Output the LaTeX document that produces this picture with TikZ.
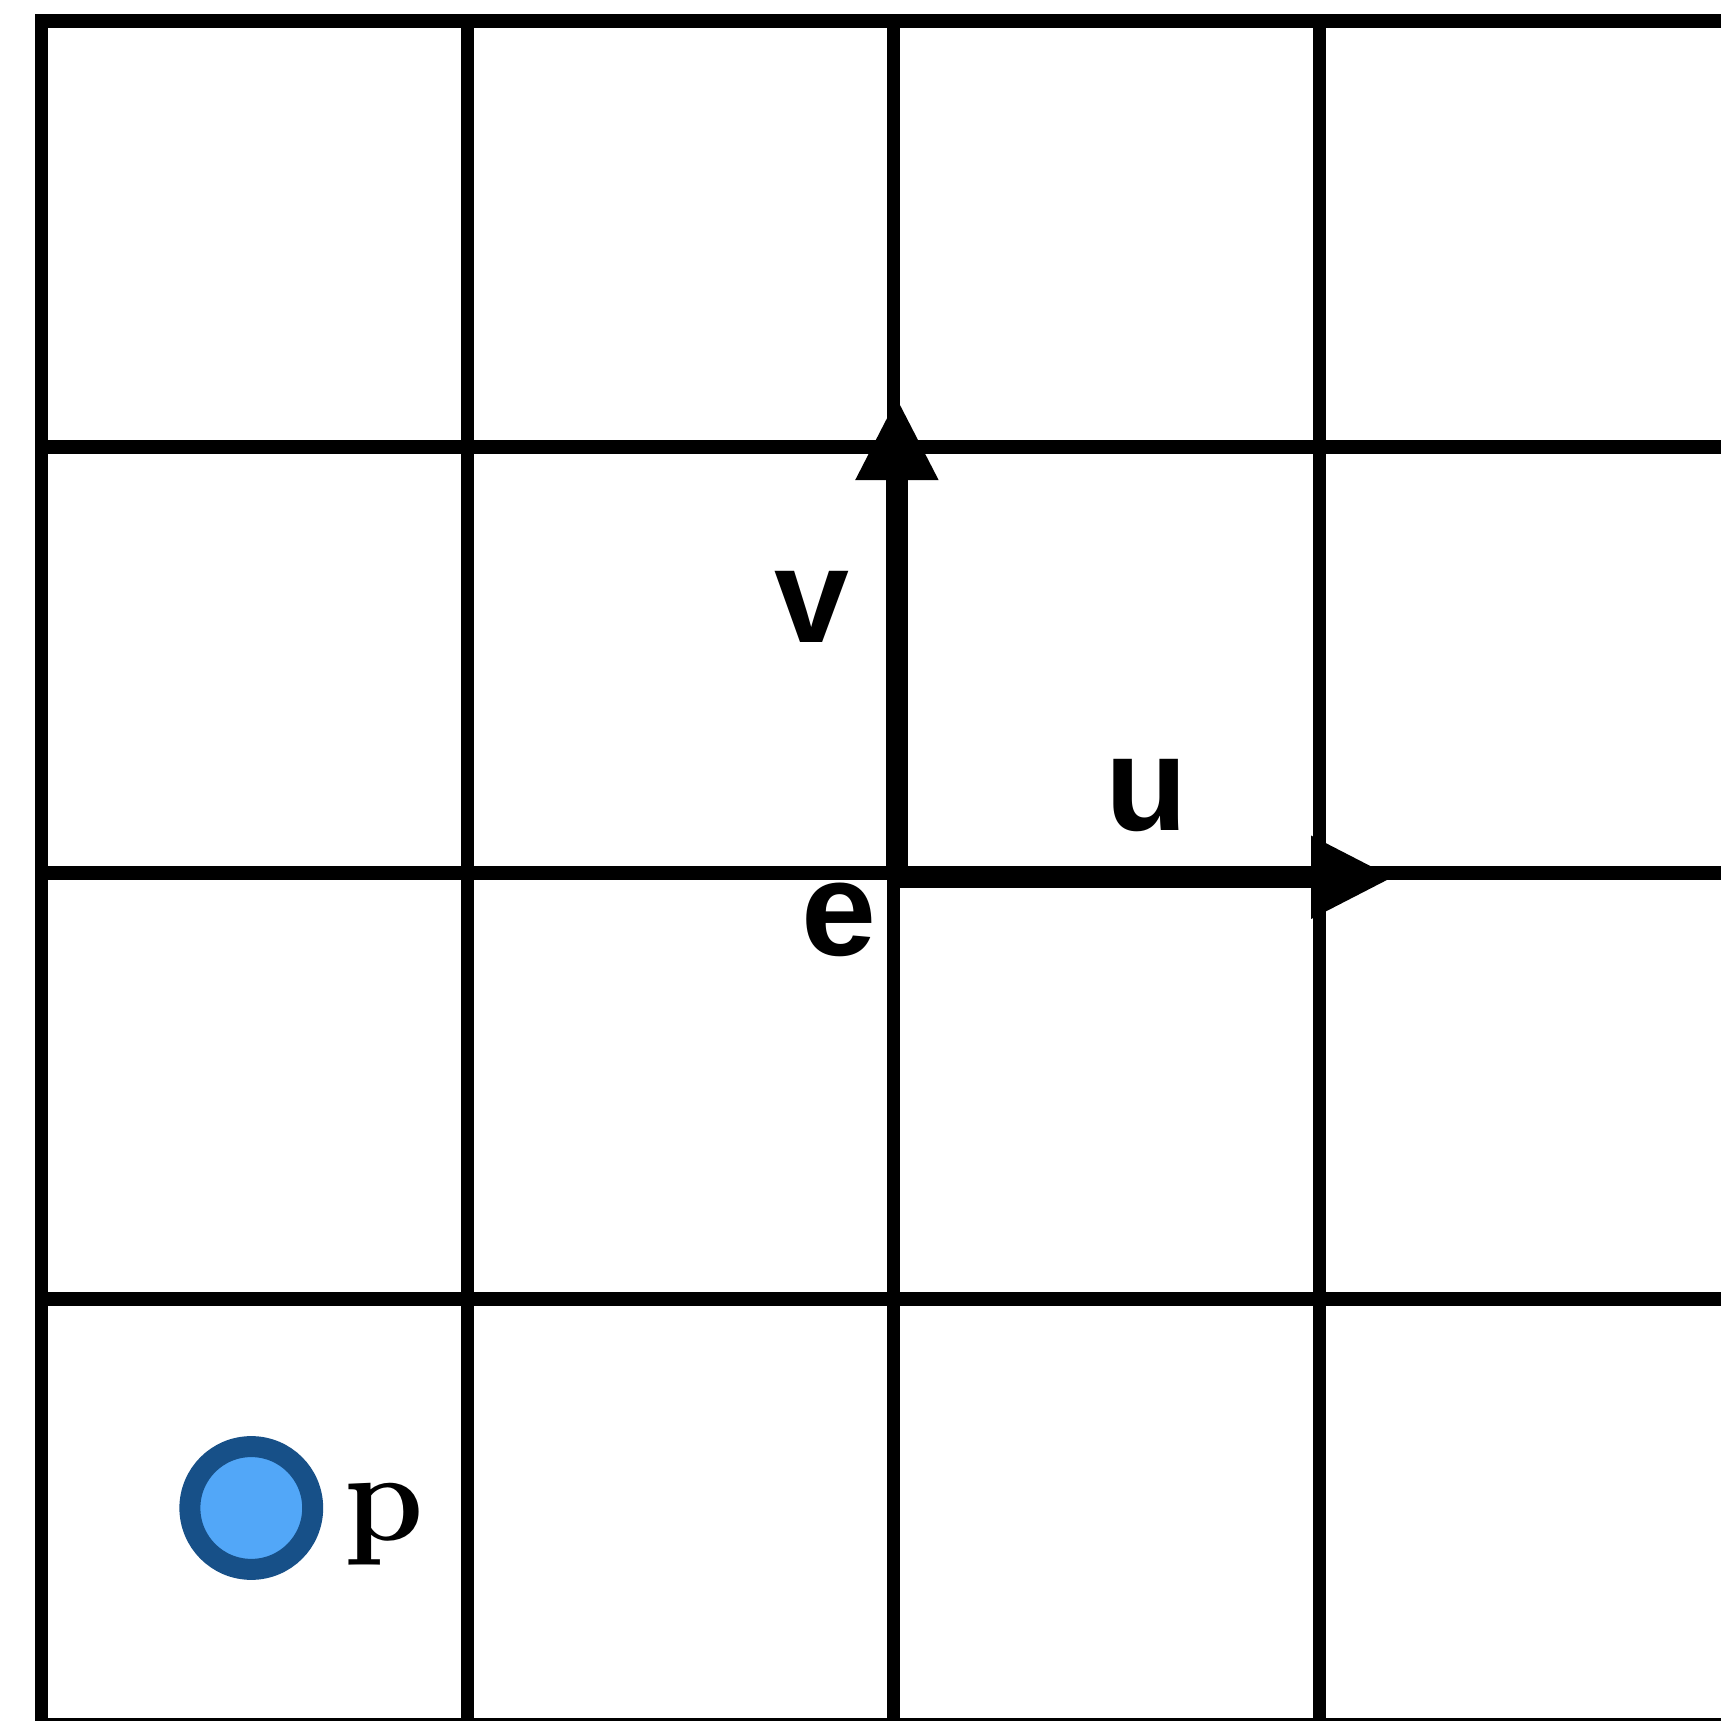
\documentclass[tikz,border=0pt]{standalone}
\usepackage{fontspec}
\newfontfamily\sanslabel{Liberation Sans}
\usetikzlibrary{arrows.meta}
\definecolor{ringblue}{RGB}{23,80,136}
\definecolor{dotblue}{RGB}{82,167,248}

\begin{document}
\begin{tikzpicture}[
  gridline/.style={line width=3.6pt, line cap=rect},
  vec/.style={line width=5.9pt, -{Triangle[length=7.8mm,width=7.2mm]}},
  veclabel/.style={font=\sanslabel\fontsize{36}{40}\selectfont\bfseries, inner sep=0pt},
]
\useasboundingbox (-0.3915,0.197) rectangle (15.768,-15.953);
\clip (-0.3915,0.197) rectangle (15.768,-15.953);

% grid, cells of 4cm
\draw[gridline] (0,0) -- (16,0);
\draw[gridline] (0,-4) -- (16,-4);
\draw[gridline] (0,-8) -- (16,-8);
\draw[gridline] (0,-12) -- (16,-12);
\draw[gridline] (0,-16) -- (16,-16);
\draw[gridline] (0,0) -- (0,-16);
\draw[gridline] (4,0) -- (4,-16);
\draw[gridline] (8,0) -- (8,-16);
\draw[gridline] (12,0) -- (12,-16);

\coordinate (E) at (8.03,-8.04);
\coordinate (V) at (8.03,-3.53); \coordinate (U) at (12.70,-8.04);
\draw[vec] (E) -- (V);
\draw[vec] (E) -- (U);

\node[veclabel] (lv) at (7.237,-5.498) {v};
\node[veclabel] (lu) at (10.372,-7.268) {u};
\node[veclabel] (le) at (7.484,-8.441) {e};

\node[circle, draw=ringblue, fill=dotblue, line width=0.197cm,
      minimum size=1.153cm, inner sep=0pt] (P) at (1.968,-13.962) {};
\node[font=\bfseries\fontsize{34}{38}\selectfont, inner sep=0pt] (lp) at (3.214,-14.113) {p};

\end{tikzpicture}
\end{document}
